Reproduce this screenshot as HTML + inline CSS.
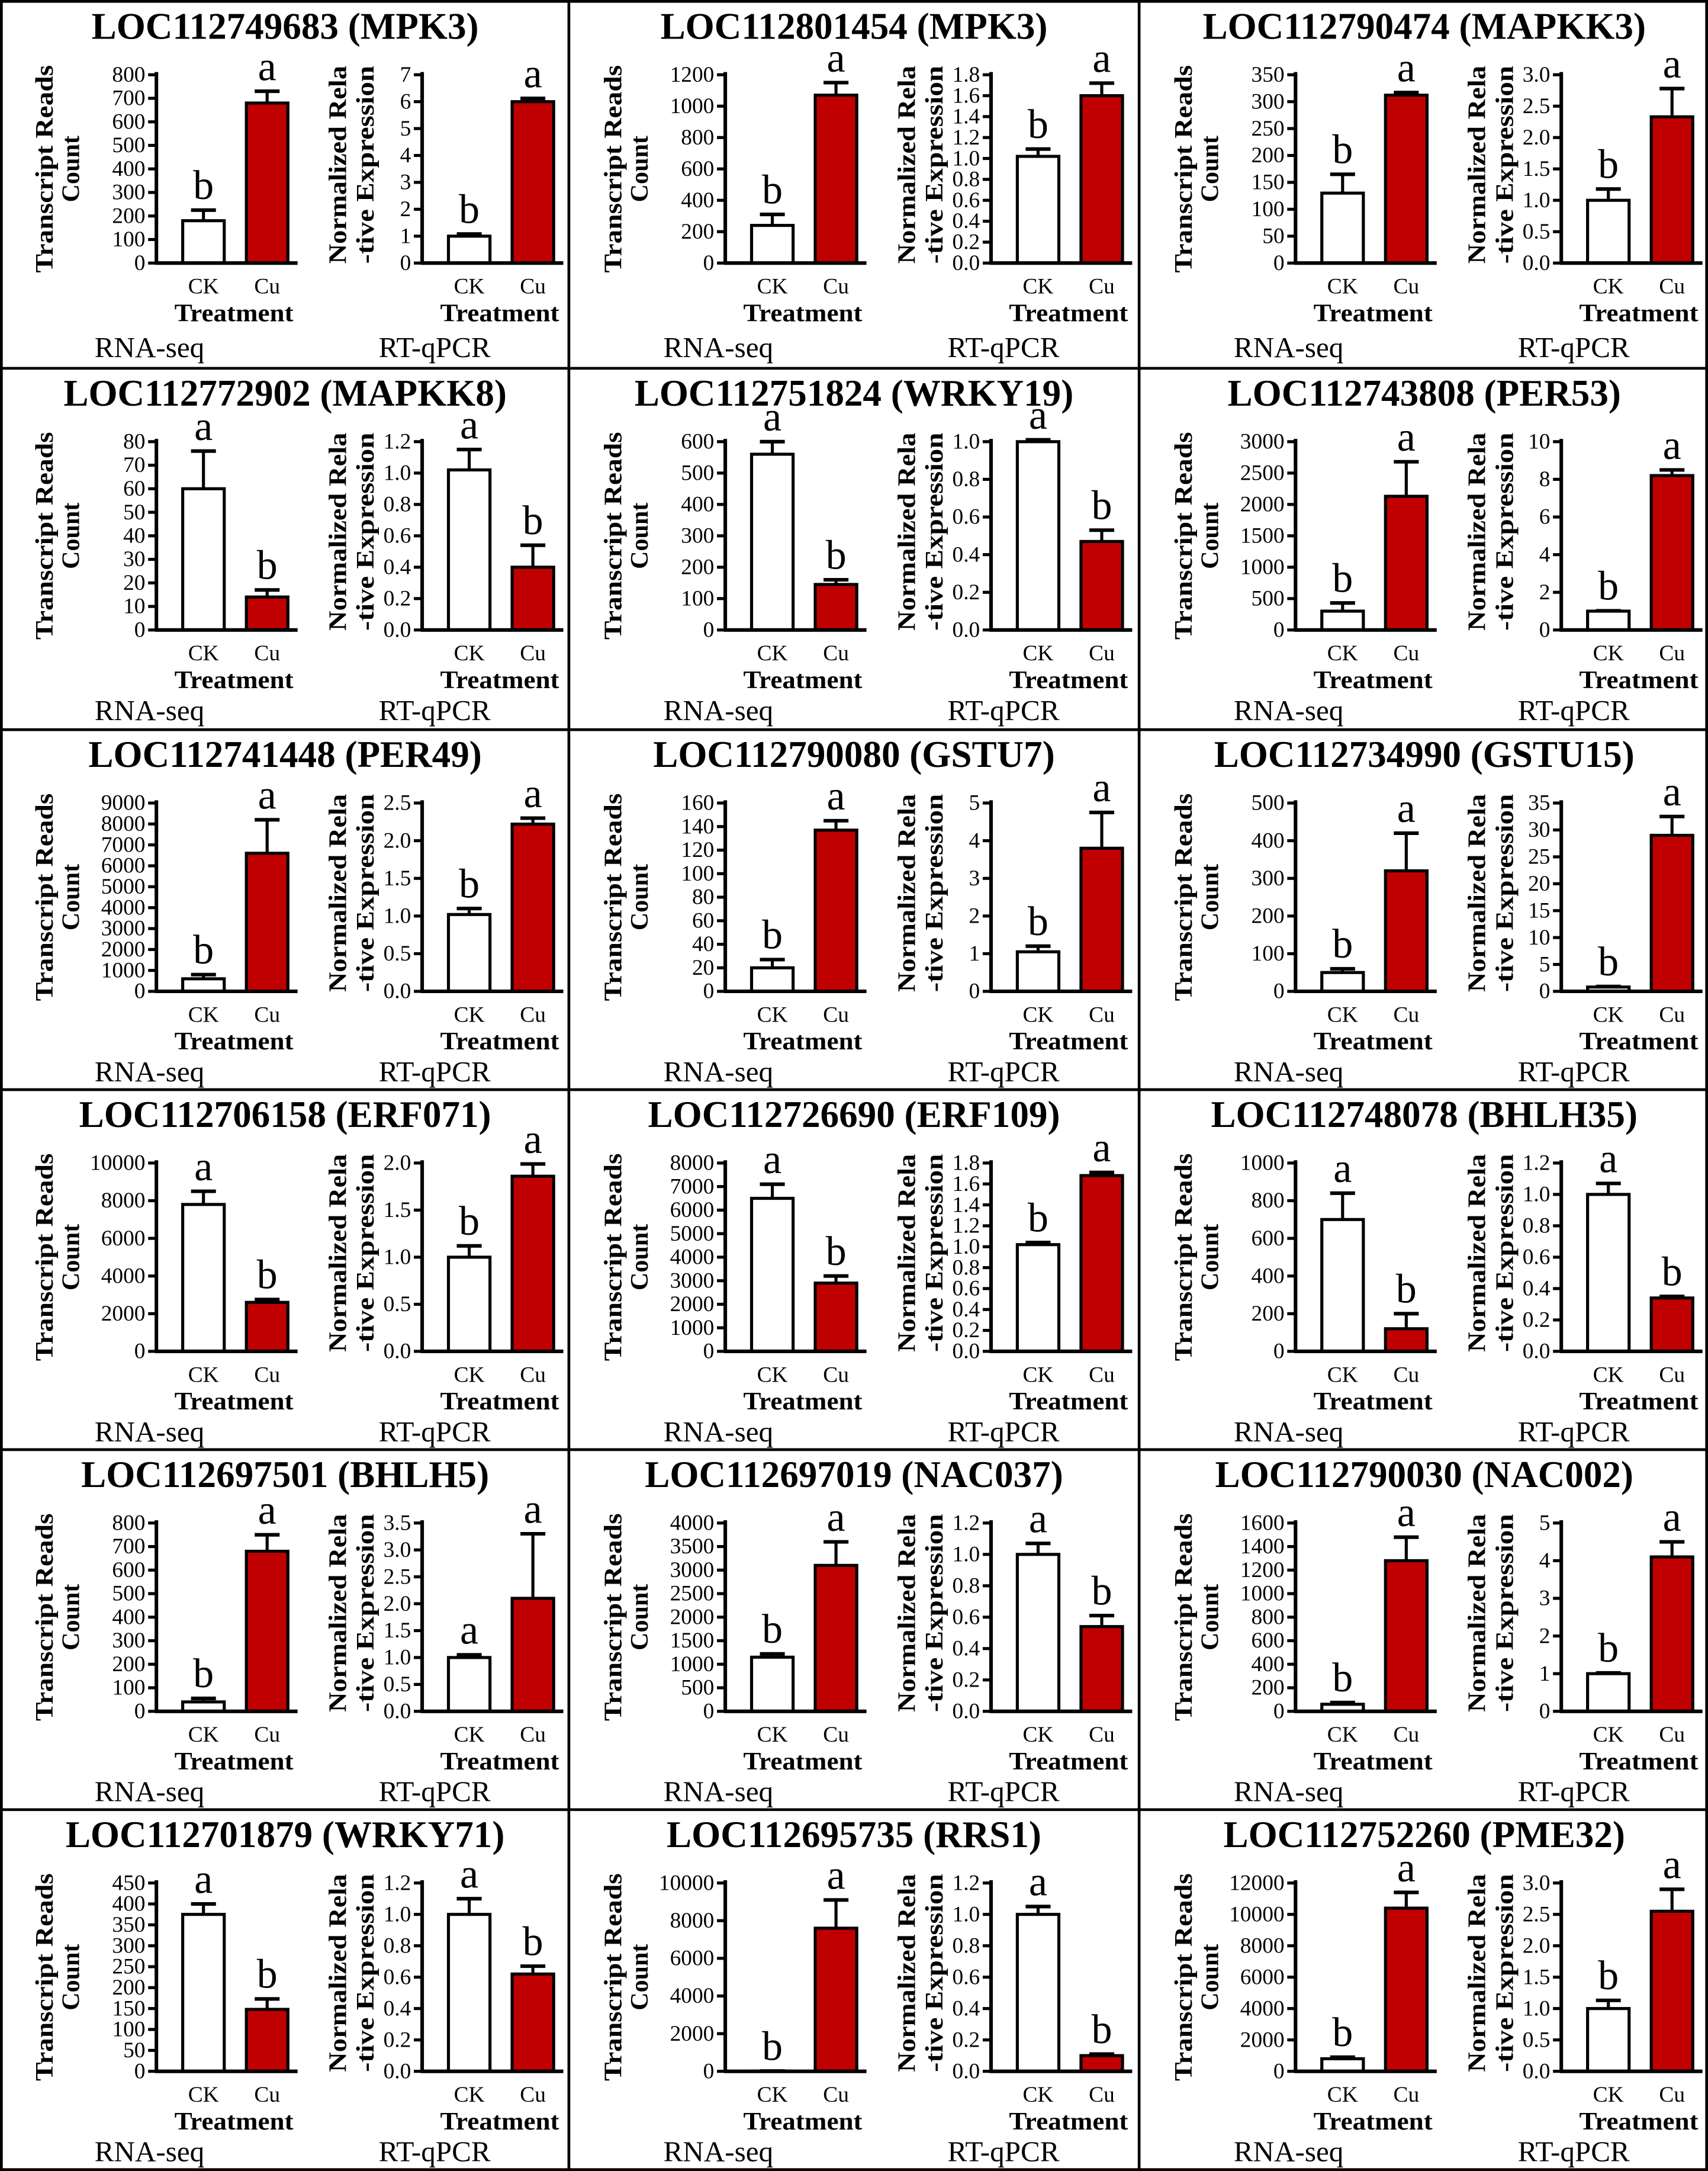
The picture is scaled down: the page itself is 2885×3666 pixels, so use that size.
<!DOCTYPE html>
<html><head><meta charset="utf-8"><style>
html,body{margin:0;padding:0;background:#fff}
svg{display:block}
text{font-family:"Liberation Serif",serif;fill:#000}
</style></head><body>
<svg id="fig" xmlns="http://www.w3.org/2000/svg" width="2885" height="3666" viewBox="0 0 1234 1568" preserveAspectRatio="none"></svg>
<script>
const titles=["LOC112749683 (MPK3)","LOC112801454 (MPK3)","LOC112790474 (MAPKK3)","LOC112772902 (MAPKK8)","LOC112751824 (WRKY19)","LOC112743808 (PER53)","LOC112741448 (PER49)","LOC112790080 (GSTU7)","LOC112734990 (GSTU15)","LOC112706158 (ERF071)","LOC112726690 (ERF109)","LOC112748078 (BHLH35)","LOC112697501 (BHLH5)","LOC112697019 (NAC037)","LOC112790030 (NAC002)","LOC112701879 (WRKY71)","LOC112695735 (RRS1)","LOC112752260 (PME32)"];
const rnaMax=[800,1200,350,80,600,3000,9000,160,500,10000,8000,1000,800,4000,1600,450,10000,12000];
const rnaStep=[100,200,50,10,100,500,1000,20,100,2000,1000,200,100,500,200,50,2000,2000];
const rnaCK=[180,240,130,60,560,300,600,20,50,7800,6500,700,40,1150,60,375,10,800];
const rnaCKErr=[45,70,35,16,40,130,200,7,10,700,600,140,15,70,15,25,5,100];
const rnaCu=[680,1070,312,14,145,2130,6600,137,320,2600,2900,120,680,3100,1280,148,7600,10400];
const rnaCuErr=[50,80,5,3,15,550,1600,8,100,150,300,80,70,500,200,25,1500,1000];
const rnaLetters=[["b","a"],["b","a"],["b","a"],["a","b"],["a","b"],["b","a"],["b","a"],["b","a"],["b","a"],["a","b"],["a","b"],["a","b"],["b","a"],["b","a"],["b","a"],["a","b"],["b","a"],["b","a"]];
const qMax=[7,1.8,3.0,1.2,1.0,10,2.5,5,35,2.0,1.8,1.2,3.5,1.2,5,1.2,1.2,3.0];
const qStep=[1,0.2,0.5,0.2,0.2,2,0.5,1,5,0.5,0.2,0.2,0.5,0.2,1,0.2,0.2,0.5];
const qCK=[1.0,1.02,1.0,1.02,1.0,1.0,1.02,1.05,0.8,1.0,1.02,1.0,1.0,1.0,1.0,1.0,1.0,1.0];
const qCKErr=[0.08,0.07,0.18,0.13,0.01,0.02,0.08,0.15,0.1,0.12,0.02,0.07,0.05,0.07,0.02,0.1,0.05,0.13];
const qCu=[6.0,1.6,2.33,0.4,0.47,8.2,2.22,3.8,29,1.86,1.68,0.34,2.1,0.54,4.1,0.62,0.1,2.55];
const qCuErr=[0.12,0.12,0.45,0.14,0.06,0.3,0.08,0.95,3.5,0.13,0.03,0.01,1.2,0.07,0.4,0.05,0.01,0.35];
const qLetters=[["b","a"],["b","a"],["b","a"],["a","b"],["a","b"],["b","a"],["b","a"],["b","a"],["b","a"],["b","a"],["b","a"],["a","b"],["a","a"],["a","b"],["b","a"],["a","b"],["a","b"],["b","a"]];

const NS="http://www.w3.org/2000/svg";
const svg=document.getElementById('fig');
function el(tag,attrs,parent,txt){const e=document.createElementNS(NS,tag);for(const k in attrs)e.setAttribute(k,attrs[k]);if(txt!==undefined)e.textContent=txt;(parent||svg).appendChild(e);return e;}
const rowTops=[1,266,527,787,1047,1307];
const colX=[0,411,823];

function chart(g,ax,top,max,step,vals,errs,letters,kind){
  const yb=top+189, yt=top+53;
  const y=v=>yb-(v/max)*(yb-yt);
  const dec=(step%1!==0)?1:0;
  const n=Math.round(max/step);
  for(let i=0;i<=n;i++){
    const v=i*step, yy=y(v);
    const t=el('line',{x1:ax-6,x2:ax,y1:yy,y2:yy,stroke:'#000','stroke-width':2.2},g);
    
    
    const l=el('text',{x:ax-8,y:yy+5,'text-anchor':'end','font-size':16},g,v.toFixed(dec));
    
    
  }
  const cats=["CK","Cu"], fills=["#ffffff","#c00000"], offs=[19,65];
  for(let j=0;j<2;j++){
    const bx=ax+offs[j], cx=bx+15;
    const by=y(vals[j]);
    const r=el('rect',{x:bx,y:by,width:30,height:yb-by,fill:fills[j],stroke:'#000','stroke-width':2.2},g);
    
    
    const ey=y(vals[j]+errs[j]);
    const e1=el('line',{x1:cx,x2:cx,y1:by,y2:ey,stroke:'#000','stroke-width':2.2},g);
    
    
    const e2=el('line',{x1:cx-9,x2:cx+9,y1:ey,y2:ey,stroke:'#000','stroke-width':2.6},g);
    
    
    const lt=el('text',{x:cx,y:Math.min(ey,by)-8,'text-anchor':'middle','font-size':30},g,letters[j]);
    
    
    const xl=el('text',{x:cx,y:top+211,'text-anchor':'middle','font-size':16},g,cats[j]);
    
    
  }
  const a1=el('line',{x1:ax,x2:ax,y1:yt-2,y2:yb+1,stroke:'#000','stroke-width':2.6},g);
  
  
  const a2=el('line',{x1:ax-1,x2:ax+102,y1:yb,y2:yb,stroke:'#000','stroke-width':2.6},g);
  
  
  const tr=el('text',{x:ax+56,y:top+231,'text-anchor':'middle','font-size':18,'font-weight':'bold',textLength:86,lengthAdjust:'spacingAndGlyphs'},g,"Treatment");
  
  
}

for(let p=0;p<18;p++){
  const top=rowTops[Math.floor(p/3)], cx=colX[p%3];
  const g=el('g',{});
  
  
  const t=el('text',{x:cx+206,y:top+27,'text-anchor':'middle','font-size':27,'font-weight':'bold'},g,titles[p]);
  
  
  const yc=top+121;
  const y1=el('text',{x:0,y:0,'text-anchor':'middle','font-size':18,'font-weight':'bold',transform:`translate(${cx+38},${yc}) rotate(-90)`,textLength:150,lengthAdjust:'spacingAndGlyphs'},g,"Transcript Reads");
  
  
  const y2=el('text',{x:0,y:0,'text-anchor':'middle','font-size':18,'font-weight':'bold',transform:`translate(${cx+57},${yc}) rotate(-90)`},g,"Count");
  
  
  const y3=el('text',{x:0,y:0,'text-anchor':'middle','font-size':18,'font-weight':'bold',transform:`translate(${cx+250},${top+118}) rotate(-90)`,textLength:143,lengthAdjust:'spacingAndGlyphs'},g,"Normalized Rela");
  
  
  const y4=el('text',{x:0,y:0,'text-anchor':'middle','font-size':18,'font-weight':'bold',transform:`translate(${cx+270},${top+118}) rotate(-90)`,textLength:143,lengthAdjust:'spacingAndGlyphs'},g,"-tive Expression");
  
  
  chart(g,cx+113,top,rnaMax[p],rnaStep[p],[rnaCK[p],rnaCu[p]],[rnaCKErr[p],rnaCuErr[p]],rnaLetters[p],'rna');
  chart(g,cx+305,top,qMax[p],qStep[p],[qCK[p],qCu[p]],[qCKErr[p],qCuErr[p]],qLetters[p],'qpcr');
  const lb=(p<3)?top+257:top+254;
  const l1=el('text',{x:cx+108,y:lb,'text-anchor':'middle','font-size':21},g,"RNA-seq");
  
  
  const l2=el('text',{x:cx+314,y:lb,'text-anchor':'middle','font-size':21},g,"RT-qPCR");
  
  
}
const grid=el('g',{});


el('rect',{x:1,y:1,width:1232,height:1566,fill:'none',stroke:'#000','stroke-width':2},grid);
[411,823].forEach(x=>el('line',{x1:x,x2:x,y1:0,y2:1568,stroke:'#000','stroke-width':2},grid));
[266,527,787,1047,1307].forEach(y=>el('line',{x1:0,x2:1234,y1:y,y2:y,stroke:'#000','stroke-width':2},grid));
</script>
</body></html>
